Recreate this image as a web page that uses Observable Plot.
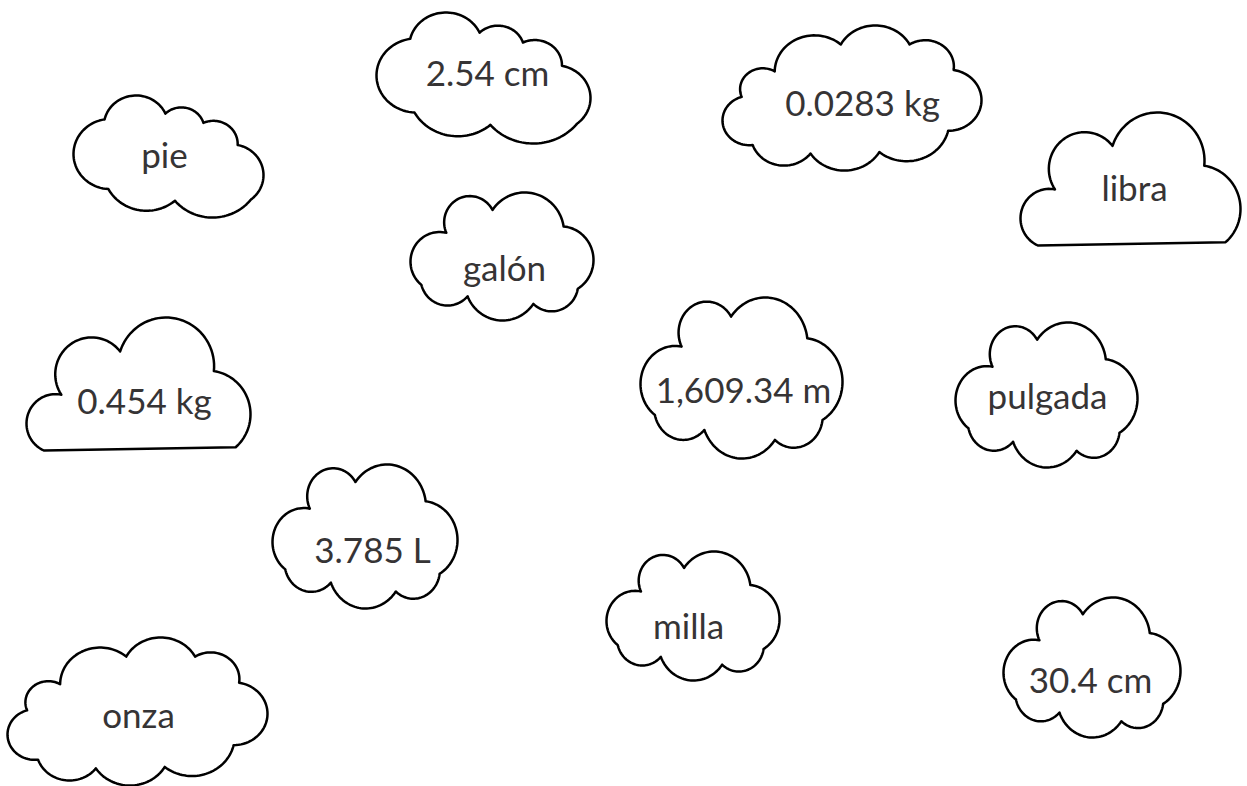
<!DOCTYPE html>
<html>
<head>
<meta charset="utf-8">
<script src="https://cdn.jsdelivr.net/npm/d3@7"></script>
<script src="https://cdn.jsdelivr.net/npm/@observablehq/plot@0.6"></script>
<style>
  html, body { margin: 0; padding: 0; background: #ffffff; }
  #chart svg { display: block; }
</style>
</head>
<body>
<div id="chart"></div>
<script>
// ---- data: cloud labels and where they sit on the page ----
const labels   = ["pie", "2.54 cm", "0.0283 kg", "libra", "galón", "0.454 kg",
                  "1,609.34 m", "pulgada", "3.785 L", "milla", "30.4 cm", "onza"];
const labelX   = [164, 487, 862, 1134, 504, 144, 743, 1047, 372, 688, 1090, 138];
const baseline = [167, 85, 115, 200, 280, 413, 402, 408, 562, 638, 692, 727];
const boxLeft   = [73, 376, 722, 1020, 410, 26, 640, 955, 272, 606, 1003, 7];
const boxRight  = [263, 590, 981, 1240, 593, 250, 842, 1137, 457, 779, 1180, 267];
const boxTop    = [95, 12, 25, 112, 192, 317, 297, 322, 464, 551, 597, 637];
const boxBottom = [217, 143, 170, 245, 320, 450, 458, 467, 608, 680, 737, 785];
const shapeKind = ["seven", "seven", "wide", "flat", "round", "flat",
                   "round", "round", "round", "round", "round", "wide"];

// ---- outline templates: cusp points (unit box) and bump sizes ----
const templates = {
  seven: {
    cusps: [[0.17,0.15],[0.49,0.10],[0.69,0.18],[0.87,0.37],[0.94,0.84],[0.54,0.85],[0.19,0.75]],
    bulge: [0.36,0.28,0.28,0.32,0.24,0.24,0.45]
  },
  wide: {
    cusps: [[0.10,0.49],[0.22,0.31],[0.46,0.12],[0.71,0.12],[0.87,0.30],
            [0.85,0.73],[0.60,0.88],[0.35,0.89],[0.14,0.83]],
    bulge: [0.36,0.32,0.3,0.32,0.46,0.28,0.28,0.3,0.46]
  },
  round: {
    cusps: [[0.19,0.34],[0.45,0.16],[0.85,0.29],[0.93,0.78],[0.68,0.90],[0.31,0.84],[0.05,0.75]],
    bulge: [0.48,0.34,0.36,0.3,0.3,0.3,0.4]
  },
  flat: {
    cusps: [[0.07,0.985],[0.15,0.56],[0.42,0.23],[0.85,0.38],[0.95,0.96]],
    bulge: [0.45,0.48,0.45,0.32,-0.01]
  }
};

function arcPoints(p1, p2, ratio, out) {
  const dx = p2[0]-p1[0], dy = p2[1]-p1[1];
  const c = Math.hypot(dx, dy);
  if (Math.abs(ratio) < 0.02) { out.push(p1); return; }
  const s = ratio * c;
  const nx = dy / c, ny = -dx / c; // outward normal for clockwise order (y down)
  const mx = (p1[0]+p2[0])/2, my = (p1[1]+p2[1])/2;
  const r = (c*c/4 + s*s) / (2*s);
  const cx = mx + nx*(s - r), cy = my + ny*(s - r);
  const a1 = Math.atan2(p1[1]-cy, p1[0]-cx);
  const a2 = Math.atan2(p2[1]-cy, p2[0]-cx);
  const am = Math.atan2(my+ny*s-cy, mx+nx*s-cx);
  const TAU = 2*Math.PI;
  const mod = v => ((v % TAU) + TAU) % TAU;
  let sweep = mod(a2 - a1);
  if (mod(am - a1) > sweep) sweep = sweep - TAU;
  const n = 40;
  for (let i = 0; i < n; i++) {
    const a = a1 + sweep * i / n;
    out.push([cx + Math.abs(r)*Math.cos(a), cy + Math.abs(r)*Math.sin(a)]);
  }
}

const outline = [];
labels.forEach((lab, k) => {
  const t = templates[shapeKind[k]];
  const w = boxRight[k]-boxLeft[k], h = boxBottom[k]-boxTop[k];
  const pts = t.cusps.map(([u,v]) => [u*w, v*h]);
  const raw = [];
  for (let i = 0; i < pts.length; i++) arcPoints(pts[i], pts[(i+1)%pts.length], t.bulge[i], raw);
  const [x0, x1] = d3.extent(raw, p => p[0]);
  const [y0, y1] = d3.extent(raw, p => p[1]);
  raw.push(raw[0]);
  raw.forEach(p => outline.push({
    id: k,
    x: boxLeft[k] + (p[0]-x0)/(x1-x0)*w,
    y: boxTop[k] + (p[1]-y0)/(y1-y0)*h
  }));
});

const texts = labels.map((s, k) => ({label: s, x: labelX[k], y: baseline[k]}));
const fontSize = 35;

const chart = Plot.plot({
  width: 1247,
  height: 786,
  margin: 0,
  x: {domain: [0, 1247], range: [0, 1247], axis: null},
  y: {domain: [0, 786], range: [0, 786], axis: null},
  style: {background: "#ffffff"},
  marks: [
    Plot.line(outline, {x: "x", y: "y", z: "id", stroke: "#000000", strokeWidth: 2.5,
                        strokeLinejoin: "round", fill: "none"}),
    Plot.text(texts, {x: "x", y: "y", text: "label", fontSize, fill: "#363435",
                      fontWeight: 400,
                      fontFamily: "Lato, 'Noto Sans', sans-serif",
                      textAnchor: "middle", lineAnchor: "middle", dy: -0.32*fontSize})
  ]
});
document.getElementById("chart").appendChild(chart);
</script>
</body>
</html>
